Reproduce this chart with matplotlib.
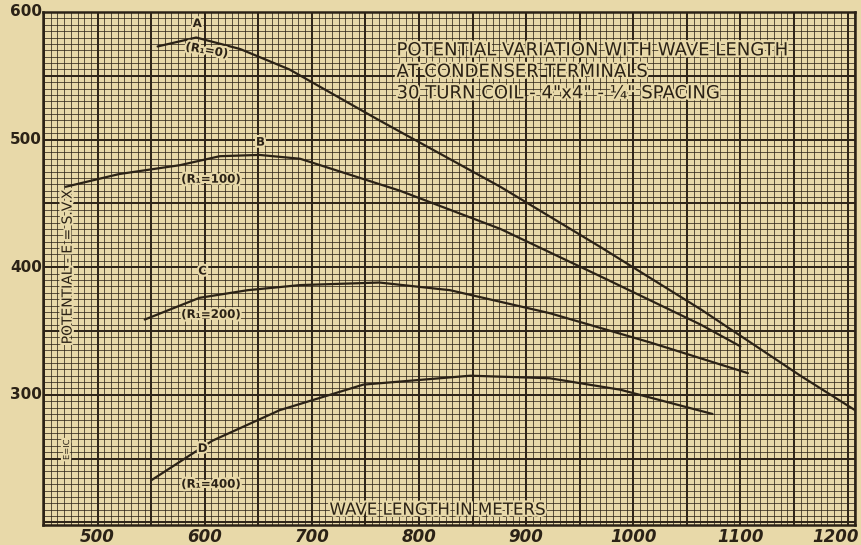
import matplotlib.pyplot as plt
import matplotlib.patheffects as pe
from matplotlib.ticker import MultipleLocator

# wave length (meters) / potential readings for the four curves
a_x = [556, 592, 633, 679, 761, 876, 969, 1063, 1156, 1207]
a_y = [573, 580, 571, 555, 516, 463, 416, 367, 315, 288]

b_x = [470, 520, 577, 614, 651, 689, 782, 876, 969, 1063, 1100]
b_y = [463, 473, 480, 487, 488, 485, 460, 430, 393, 355, 338]

c_x = [544, 595, 640, 689, 763, 829, 922, 1016, 1107]
c_y = [359, 376, 382, 386, 388, 382, 364, 341, 317]

d_x = [550, 607, 670, 748, 848, 922, 988, 1074]
d_y = [233, 264, 288, 308, 315, 313, 304, 285]

x_ticks = [500, 600, 700, 800, 900, 1000, 1100, 1200]
y_ticks = [300, 400, 500, 600]

paper = '#e8d9a9'
ink = '#2b2216'

fig = plt.figure(figsize=(8.61, 5.45), dpi=100, facecolor=paper)
ax = fig.add_axes([43 / 861, 20 / 545, 812 / 861, 513 / 545])
ax.set_facecolor(paper)

ax.set_xlim(449, 1207)
ax.set_ylim(198, 600)

# graph paper
ax.xaxis.set_major_locator(MultipleLocator(50))
ax.xaxis.set_minor_locator(MultipleLocator(6.25))
ax.yaxis.set_major_locator(MultipleLocator(50))
ax.yaxis.set_minor_locator(MultipleLocator(5))
ax.grid(which='minor', color=ink, linewidth=0.7, alpha=0.75)
ax.grid(which='major', color=ink, linewidth=1.4)
ax.set_axisbelow(True)
ax.tick_params(which='both', length=0, labelbottom=False, labelleft=False)
for s in ax.spines.values():
    s.set_color(ink)
    s.set_linewidth(1.8)

# tick labels drawn by hand like the old sheet
for v in x_ticks:
    xpos = v if v < 1200 else 1189
    ax.text(xpos, 196, str(v), ha='center', va='top', fontsize=12, fontweight='bold',
            fontstyle='italic', color=ink, clip_on=False)
for v in y_ticks:
    ax.text(448, v, str(v), ha='right', va='center', fontsize=11, fontweight='bold',
            color=ink, clip_on=False)

for xs, ys in [(a_x, a_y), (b_x, b_y), (c_x, c_y), (d_x, d_y)]:
    ax.plot(xs, ys, color=ink, linewidth=1.6, solid_capstyle='round')

halo = [pe.withStroke(linewidth=3, foreground=paper)]
kw = dict(color=ink, fontsize=8.5, fontweight='bold', path_effects=halo)

ax.text(593, 591, 'A', ha='center', va='center', **kw)
ax.text(581, 570, '(R₁=0)', ha='left', va='center', rotation=-10, **kw)
ax.text(652, 498, 'B', ha='center', va='center', **kw)
ax.text(578, 469, '(R₁=100)', ha='left', va='center', **kw)
ax.text(598, 397, 'C', ha='center', va='center', **kw)
ax.text(578, 363, '(R₁=200)', ha='left', va='center', **kw)
ax.text(598, 258, 'D', ha='center', va='center', **kw)
ax.text(578, 230, '(R₁=400)', ha='left', va='center', **kw)

title = ('POTENTIAL VARIATION WITH WAVE LENGTH\n'
         'AT CONDENSER TERMINALS\n'
         '30 TURN COIL - 4"x4" - ¼" SPACING')
ax.text(779, 577, title, ha='left', va='top', linespacing=1.25,
        color=ink, fontsize=13, path_effects=halo)

ax.text(817, 210, 'WAVE LENGTH IN METERS', ha='center', va='center',
        color=ink, fontsize=12, path_effects=halo)
ax.text(472, 400, 'POTENTIAL - E = S.V.X', ha='center', va='center', rotation=90,
        color=ink, fontsize=10, path_effects=halo)
ax.text(471, 257, 'E=IC', ha='center', va='center', rotation=90,
        color=ink, fontsize=6, path_effects=halo)

fig.savefig('out.png', dpi=100, facecolor=paper)
